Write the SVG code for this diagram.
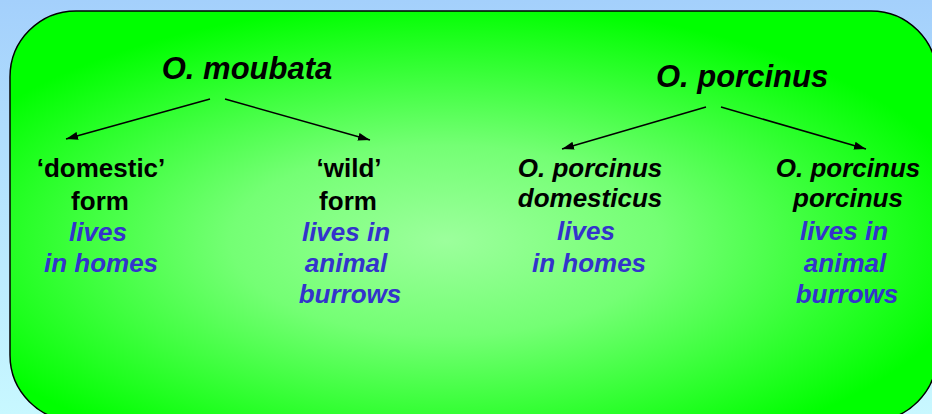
<svg xmlns="http://www.w3.org/2000/svg" width="932" height="414" viewBox="0 0 932 414">
<defs>
<linearGradient id="bg" x1="0" y1="0" x2="0" y2="1">
<stop offset="0" stop-color="#a4d0fc"/>
<stop offset="1" stop-color="#c8f8ff"/>
</linearGradient>
<radialGradient id="panel" cx="0.47" cy="0.56" r="0.58">
<stop offset="0" stop-color="#9cff9c"/>
<stop offset="0.4" stop-color="#74ff74"/>
<stop offset="1" stop-color="#00ff00"/>
</radialGradient>
<marker id="ah" viewBox="0 0 12 8" refX="12" refY="4" markerWidth="12" markerHeight="8" markerUnits="userSpaceOnUse" orient="auto">
<path d="M0,0 L12,4 L0,8 Z" fill="#000"/>
</marker>
<style>
text { font-family: "Liberation Sans", Arial, sans-serif; font-weight: bold; text-anchor: middle; }
.title { font-size: 31px; font-style: italic; fill: #000; }
.lab { font-size: 26px; fill: #000; }
.it { font-style: italic; }
.blue { font-size: 26px; font-style: italic; fill: #3333cc; }
.conn line { stroke: #000; stroke-width: 1.5; marker-end: url(#ah); }
</style>
</defs>
<rect x="0" y="0" width="932" height="414" fill="url(#bg)"/>
<rect id="panel-box" x="10" y="11" width="927" height="410" rx="66" ry="66" fill="url(#panel)" stroke="#000" stroke-width="1.5"/>
<g id="connectors" class="conn">
<line x1="210" y1="99" x2="66" y2="139"/>
<line x1="225" y1="99" x2="370" y2="140"/>
<line x1="706" y1="107" x2="562" y2="149"/>
<line x1="721" y1="107" x2="866" y2="149"/>
</g>
<g id="moubata"><text class="title" x="247" y="79">O. moubata</text></g>
<g id="porcinus"><text class="title" x="742" y="87">O. porcinus</text></g>
<g id="domestic">
<text class="lab" x="101" y="177">‘domestic’</text>
<text class="lab" x="100" y="210">form</text>
<text class="blue" x="98" y="241">lives</text>
<text class="blue" x="101" y="272">in homes</text>
</g>
<g id="wild">
<text class="lab" x="349" y="177">‘wild’</text>
<text class="lab" x="348" y="210">form</text>
<text class="blue" x="346" y="241">lives in</text>
<text class="blue" x="346" y="272">animal</text>
<text class="blue" x="350" y="303">burrows</text>
</g>
<g id="domesticus">
<text class="lab it" x="590" y="177">O. porcinus</text>
<text class="lab it" x="590" y="207">domesticus</text>
<text class="blue" x="586" y="240">lives</text>
<text class="blue" x="589" y="272">in homes</text>
</g>
<g id="porcinus-porcinus">
<text class="lab it" x="848" y="177">O. porcinus</text>
<text class="lab it" x="848" y="207">porcinus</text>
<text class="blue" x="844" y="240">lives in</text>
<text class="blue" x="845" y="272">animal</text>
<text class="blue" x="847" y="303">burrows</text>
</g>
</svg>
